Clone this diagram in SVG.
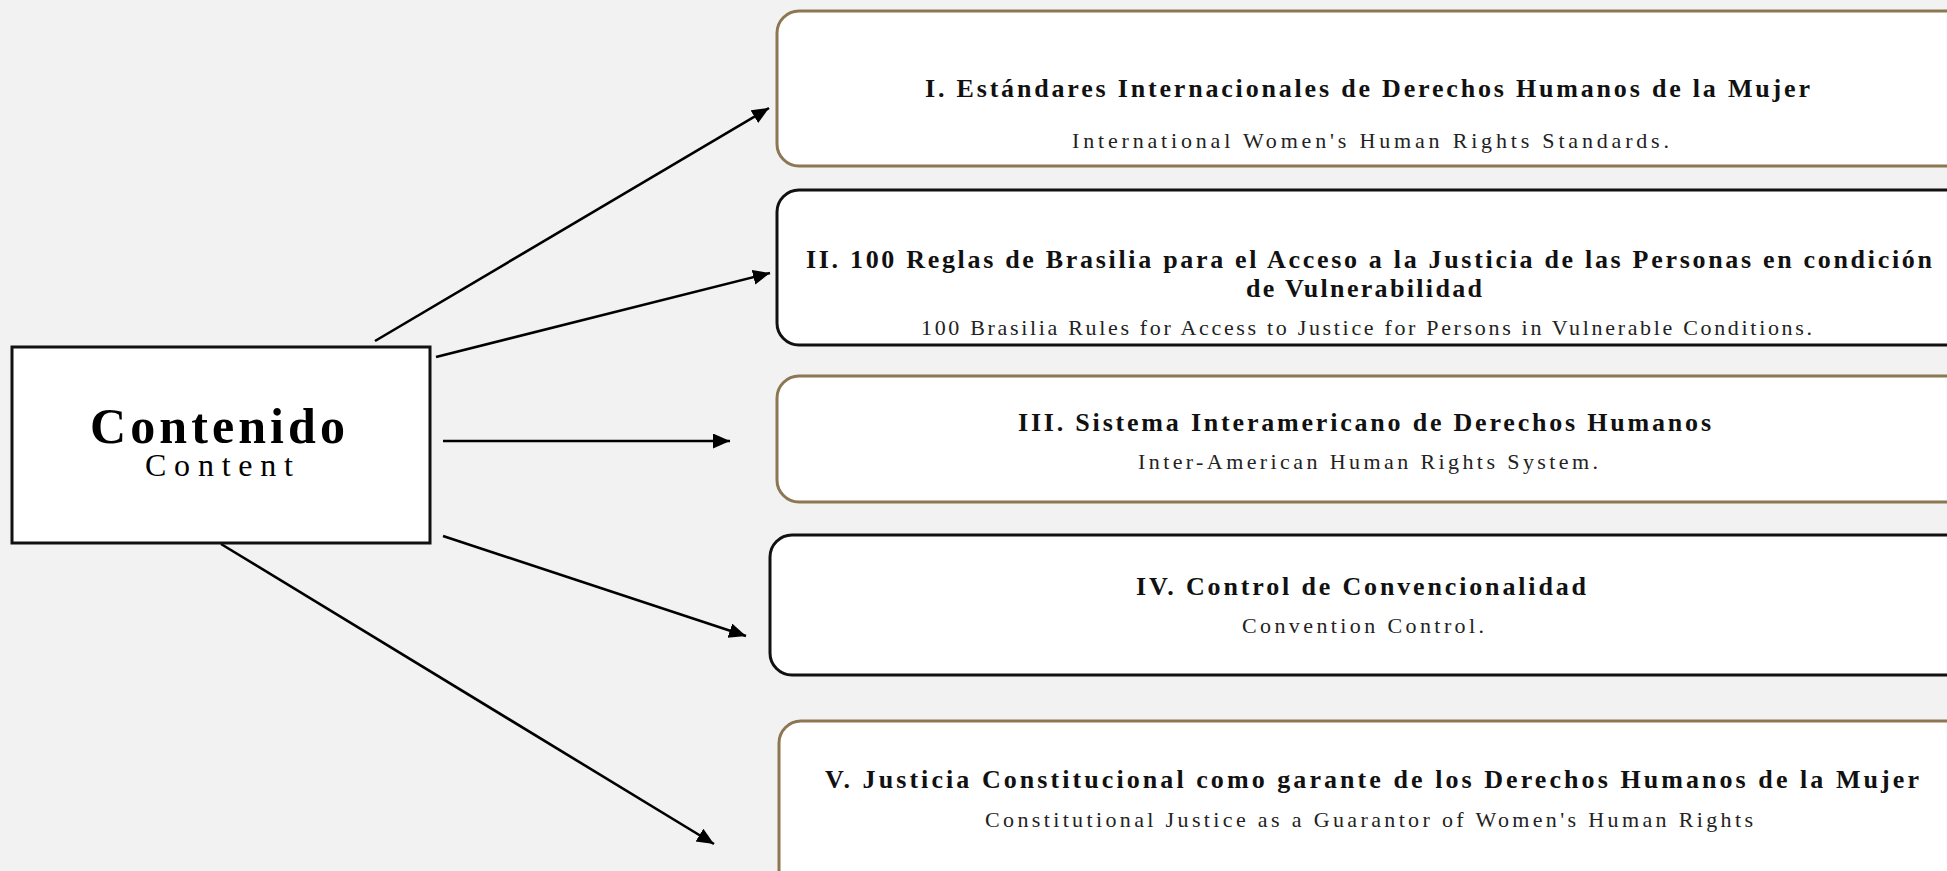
<svg xmlns="http://www.w3.org/2000/svg" width="1947" height="871" viewBox="0 0 1947 871">
<defs>
<style>
.bg{fill:#f2f2f2}
.box{fill:#ffffff;stroke-width:3}
.gold{stroke:#8c7752}
.dark{stroke:#111111}
.center{fill:#ffffff;stroke:#111111;stroke-width:3}
.t{font-family:"Liberation Serif","Times New Roman",serif;font-weight:bold;font-size:26px;fill:#111111}
.s{font-family:"Liberation Serif","Times New Roman",serif;font-size:22px;fill:#222222}
.edge{stroke:#000000;stroke-width:2.6;fill:none;marker-end:url(#ah)}
</style>
<marker id="ah" markerUnits="userSpaceOnUse" markerWidth="18" markerHeight="16" refX="17" refY="7.5" orient="auto">
<path d="M0,0 L17,7.5 L0,15 z" fill="#000000"/>
</marker>
</defs>
<rect class="bg" x="0" y="0" width="1947" height="871"/>

<g id="connectors">
<line class="edge" x1="375" y1="341" x2="769" y2="108"/>
<line class="edge" x1="436" y1="357" x2="770" y2="273"/>
<line class="edge" x1="443" y1="441" x2="730" y2="441"/>
<line class="edge" x1="443" y1="536" x2="746" y2="636"/>
<line class="edge" x1="221" y1="544" x2="714" y2="844"/>
</g>

<g id="node-contenido">
<rect class="center" x="12" y="347" width="418" height="196"/>
<text x="90" y="443" textLength="255" lengthAdjust="spacing" style="font-family:'Liberation Serif','Times New Roman',serif;font-weight:bold;font-size:50px;fill:#000">Contenido</text>
<text x="145" y="476" textLength="148" lengthAdjust="spacing" style="font-family:'Liberation Serif','Times New Roman',serif;font-size:32px;fill:#000">Content</text>
</g>

<g id="node-1">
<rect class="box gold" x="777" y="11" width="1190" height="155" rx="22"/>
<text class="t" x="925" y="97" textLength="885" lengthAdjust="spacing">I.  Estándares Internacionales de Derechos Humanos de la Mujer</text>
<text class="s" x="1072" y="148" textLength="597" lengthAdjust="spacing">International Women's Human Rights Standards.</text>
</g>

<g id="node-2">
<rect class="box dark" x="777" y="190" width="1190" height="155" rx="22"/>
<text class="t" x="806" y="268" textLength="1126" lengthAdjust="spacing">II.  100 Reglas de Brasilia para el Acceso a la Justicia de las Personas en condición</text>
<text class="t" x="1246" y="297" textLength="236" lengthAdjust="spacing">de Vulnerabilidad</text>
<text class="s" x="921" y="335" textLength="891" lengthAdjust="spacing">100 Brasilia Rules for Access to Justice for Persons in Vulnerable Conditions.</text>
</g>

<g id="node-3">
<rect class="box gold" x="777" y="376" width="1190" height="126" rx="22"/>
<text class="t" x="1018" y="431" textLength="693" lengthAdjust="spacing">III.  Sistema Interamericano de Derechos Humanos</text>
<text class="s" x="1138" y="469" textLength="460" lengthAdjust="spacing">Inter-American Human Rights System.</text>
</g>

<g id="node-4">
<rect class="box dark" x="770" y="535" width="1197" height="140" rx="22"/>
<text class="t" x="1136" y="595" textLength="450" lengthAdjust="spacing">IV.  Control de Convencionalidad</text>
<text class="s" x="1242" y="633" textLength="242" lengthAdjust="spacing">Convention Control.</text>
</g>

<g id="node-5">
<rect class="box gold" x="779" y="721" width="1190" height="180" rx="22"/>
<text class="t" x="825" y="788" textLength="1094" lengthAdjust="spacing">V.  Justicia Constitucional como garante de los Derechos Humanos de la Mujer</text>
<text class="s" x="985" y="827" textLength="768" lengthAdjust="spacing">Constitutional Justice as a Guarantor of Women's Human Rights</text>
</g>
</svg>
